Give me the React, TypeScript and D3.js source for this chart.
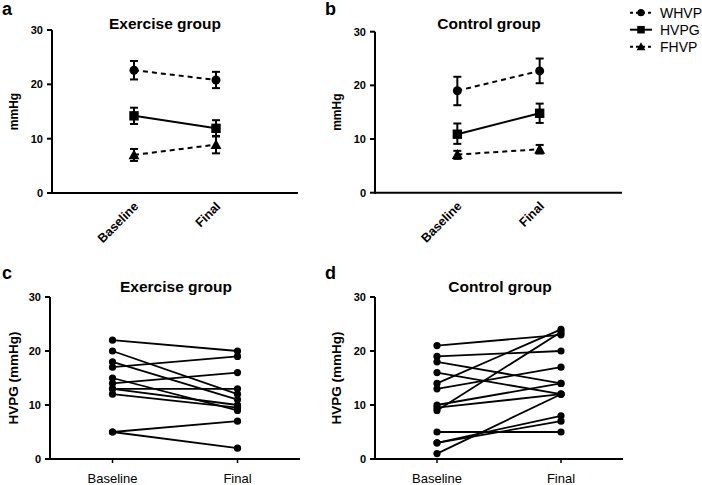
import React from "react";
import * as d3 from "d3";

const timepoints = ["Baseline", "Final"];
const yTicks = [0, 10, 20, 30];

// Panel a/b: means with error bars [mean, low, high]
const seriesNames = ["WHVP", "HVPG", "FHVP"];
const exerciseMeans = {
  WHVP: [[22.6, 20.9, 24.3], [20.8, 19.3, 22.3]],
  HVPG: [[14.2, 12.7, 15.7], [11.9, 10.4, 13.4]],
  FHVP: [[7.0, 5.9, 8.1], [8.9, 7.3, 10.5]],
};
const controlMeans = {
  WHVP: [[19.0, 16.3, 21.6], [22.7, 20.4, 25.0]],
  HVPG: [[10.9, 9.1, 12.9], [14.8, 13.0, 16.6]],
  FHVP: [[7.1, 6.3, 7.8], [8.1, 7.3, 8.9]],
};

// Panel c/d: individual HVPG [baseline, final]
const exercisePairs = [
  [22, 20], [20, 12], [18, 11], [17, 19], [15, 9], [14, 16],
  [13, 10], [13, 13], [12, 9.5], [5, 7], [5, 2],
];
const controlPairs = [
  [21, 23], [19, 20], [18, 14], [16, 12], [14, 24], [13, 17],
  [10, 14], [9, 23.5], [9.5, 12], [5, 5], [3, 8], [3, 7], [1, 12],
];

const FONT = "'Liberation Sans', Arial, sans-serif";
const dashed = new Set(["WHVP", "FHVP"]);

function Marker({ name, x, y, s = 1 }: { name: string; x: number; y: number; s?: number }) {
  if (name === "WHVP") return <circle cx={x} cy={y} r={4.5 * s} fill="#000" />;
  if (name === "HVPG") return <rect x={x - 4.7 * s} y={y - 4.7 * s} width={9.4 * s} height={9.4 * s} fill="#000" />;
  const k = 5.5 * s;
  return <path d={`M${x},${y - k}L${x + k},${y + k * 0.8}L${x - k},${y + k * 0.8}Z`} fill="#000" />;
}

function YAxis({ y, x0 }: { y: d3.ScaleLinear<number, number>; x0: number }) {
  return (
    <g>
      <line x1={x0} x2={x0} y1={y(0) + 1} y2={y(30)} stroke="#000" strokeWidth={2} />
      {yTicks.map((t) => (
        <g key={t}>
          <line x1={x0 - 5} x2={x0} y1={y(t)} y2={y(t)} stroke="#000" strokeWidth={2} />
          <text x={x0 - 9} y={y(t)} dy="0.35em" textAnchor="end" fontSize={11} fontWeight="bold" fontFamily={FONT}>
            {t}
          </text>
        </g>
      ))}
    </g>
  );
}

function MeanPanel({ data, x0, x1, yTop, yBot, title, letter, lx, titleX }: any) {
  const x = d3.scalePoint<string>().domain(timepoints).range([x0, x1]).padding(1);
  const y = d3.scaleLinear().domain([0, 30]).range([yBot, yTop]);
  const line = d3.line<number[]>().x((_, i) => x(timepoints[i])!).y((d) => y(d[0]));
  return (
    <g>
      <text x={lx} y={15} fontSize={18} fontWeight="bold" fontFamily={FONT}>{letter}</text>
      <text x={titleX} y={29} textAnchor="middle" fontSize={15.5} fontWeight="bold" fontFamily={FONT}>{title}</text>
      <text transform={`translate(${lx + 16},${(yTop + yBot) / 2}) rotate(-90)`} textAnchor="middle" fontSize={12} fontWeight="bold" fontFamily={FONT}>mmHg</text>
      <YAxis y={y} x0={x0} />
      <line x1={x0 - 1} x2={x1} y1={yBot} y2={yBot} stroke="#000" strokeWidth={2} />
      {timepoints.map((t) => (
        <text key={t} transform={`translate(${x(t)! - 1},${yBot + 8}) rotate(-45)`} textAnchor="end" dy="0.7em" fontSize={12.5} fontWeight="bold" fontFamily={FONT}>{t}</text>
      ))}
      {seriesNames.map((name) => {
        const d = data[name];
        return (
          <g key={name}>
            <path d={line(d)!} fill="none" stroke="#000" strokeWidth={2} strokeDasharray={dashed.has(name) ? "5,4" : undefined} />
            {d.map((v: number[], i: number) => {
              const cx = x(timepoints[i])!;
              return (
                <g key={i}>
                  <line x1={cx} x2={cx} y1={y(v[1])} y2={y(v[2])} stroke="#000" strokeWidth={2} />
                  <line x1={cx - 4} x2={cx + 4} y1={y(v[1])} y2={y(v[1])} stroke="#000" strokeWidth={2} />
                  <line x1={cx - 4} x2={cx + 4} y1={y(v[2])} y2={y(v[2])} stroke="#000" strokeWidth={2} />
                  <Marker name={name} x={cx} y={y(v[0])} />
                </g>
              );
            })}
          </g>
        );
      })}
    </g>
  );
}

function PairPanel({ pairs, x0, x1, title, letter, lx, titleX }: any) {
  const yTop = 297, yBot = 459;
  const x = d3.scalePoint<string>().domain(timepoints).range([x0, x1]).padding(0.5);
  const y = d3.scaleLinear().domain([0, 30]).range([yBot, yTop]);
  return (
    <g>
      <text x={lx} y={279} fontSize={18} fontWeight="bold" fontFamily={FONT}>{letter}</text>
      <text x={titleX} y={292} textAnchor="middle" fontSize={15.5} fontWeight="bold" fontFamily={FONT}>{title}</text>
      <text transform={`translate(${lx + 16},${(yTop + yBot) / 2}) rotate(-90)`} textAnchor="middle" fontSize={13.5} fontWeight="bold" fontFamily={FONT}>HVPG (mmHg)</text>
      <YAxis y={y} x0={x0} />
      <line x1={x0 - 1} x2={x1} y1={yBot} y2={yBot} stroke="#000" strokeWidth={2} />
      {timepoints.map((t) => (
        <g key={t}>
          <line x1={x(t)} x2={x(t)} y1={yBot} y2={yBot + 4} stroke="#000" strokeWidth={1.5} />
          <text x={x(t)} y={483} textAnchor="middle" fontSize={13} fontFamily={FONT}>{t}</text>
        </g>
      ))}
      {pairs.map((p: number[], i: number) => (
        <g key={i}>
          <line x1={x(timepoints[0])} x2={x(timepoints[1])} y1={y(p[0])} y2={y(p[1])} stroke="#000" strokeWidth={1.8} />
          <circle cx={x(timepoints[0])} cy={y(p[0])} r={3.6} fill="#000" />
          <circle cx={x(timepoints[1])} cy={y(p[1])} r={3.6} fill="#000" />
        </g>
      ))}
    </g>
  );
}

export default function App() {
  return (
    <svg width={702} height={485} style={{ position: "absolute", left: 0, top: 0, background: "#fff" }}>
      <rect width={702} height={485} fill="#fff" />
      <MeanPanel data={exerciseMeans} x0={52} x1={298} yTop={30} yBot={193} title="Exercise group" letter="a" lx={2} titleX={165} />
      <MeanPanel data={controlMeans} x0={375} x1={622} yTop={31.7} yBot={192.7} title="Control group" letter="b" lx={325} titleX={489} />
      <PairPanel pairs={exercisePairs} x0={50} x1={300} title="Exercise group" letter="c" lx={2} titleX={176} />
      <PairPanel pairs={controlPairs} x0={375} x1={623} title="Control group" letter="d" lx={325} titleX={500} />
      {seriesNames.map((name, i) => {
        const ly = 12.7 + i * 17;
        return (
          <g key={name}>
            <line x1={630} x2={652} y1={ly} y2={ly} stroke="#000" strokeWidth={2} strokeDasharray={dashed.has(name) ? "3,3" : undefined} />
            <Marker name={name} x={641} y={ly} s={0.8} />
            <text x={660} y={ly} dy="0.36em" fontSize={14} fontFamily={FONT}>{name}</text>
          </g>
        );
      })}
    </svg>
  );
}
